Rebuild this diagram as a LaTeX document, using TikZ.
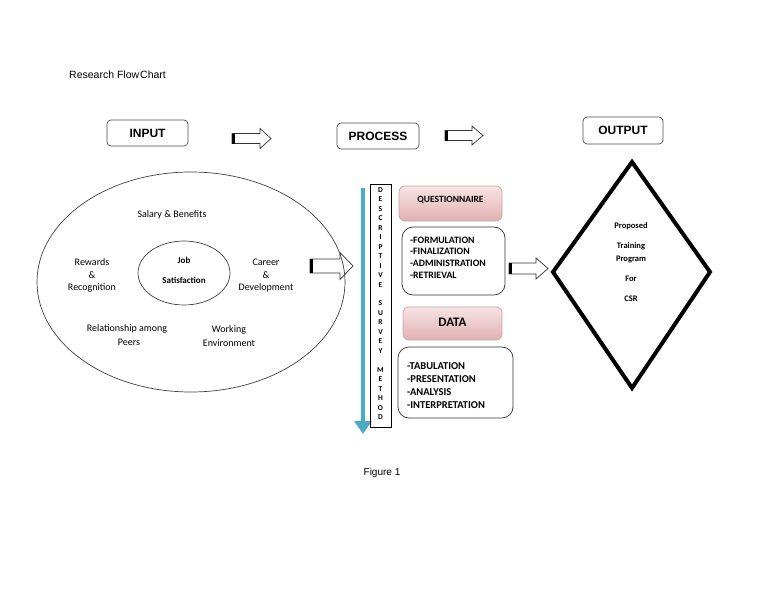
\documentclass[tikz,border=0pt]{standalone}
\usepackage{fontspec}
\setmainfont{Carlito}
\newfontfamily\arialf{Liberation Sans}
\usetikzlibrary{arrows.meta}
\definecolor{teal1}{HTML}{4BACC6}
\definecolor{pinkA}{HTML}{F7E4E4}
\definecolor{pinkB}{HTML}{E2B1B1}
\definecolor{pinkE}{HTML}{C9A3A3}
\newcommand\blockarr[7]{% name, left x, center y, length, shaft h, head h, head length
  \pgfmathsetmacro\bxl{#2}\pgfmathsetmacro\byc{#3}%
  \pgfmathsetmacro\bxb{#2+#4-#7}\pgfmathsetmacro\bxt{#2+#4}%
  \pgfmathsetmacro\bst{#3-#5/2}\pgfmathsetmacro\bsb{#3+#5/2}%
  \pgfmathsetmacro\bht{#3-#6/2}\pgfmathsetmacro\bhb{#3+#6/2}%
  \coordinate (#1) at (\bxl,\byc);
  \draw[blockline] (\bxl,\bst) -- (\bxb,\bst) -- (\bxb,\bht) -- (\bxt,\byc) -- (\bxb,\bhb) -- (\bxb,\bsb) -- (\bxl,\bsb) -- cycle;
  \fill[black] (\bxl,\bst) rectangle ++(3,#5);
}
\begin{document}
\begin{tikzpicture}[x=1pt,y=-1pt,
  hbox/.style={draw=black!70, rounded corners=4pt, line width=0.7pt, inner sep=0pt, font=\arialf\bfseries\fontsize{12}{14}\selectfont},
  blockline/.style={draw=black!80, line width=0.7pt, fill=white},
  ctext/.style={font=\fontsize{10}{12}\selectfont, inner sep=0pt},
  jtext/.style={font=\bfseries\fontsize{9}{11}\selectfont, inner sep=0pt},
  dtext/.style={font=\bfseries\fontsize{8.5}{10}\selectfont, inner sep=0pt},
  letter/.style={font=\bfseries\fontsize{7.5}{8}\selectfont, inner sep=0pt},
  listbox/.style={draw=black!80, line width=0.7pt, rounded corners=11pt, inner sep=0pt},
  pinkbox/.style={draw=pinkE, line width=0.7pt, rounded corners=6pt, top color=pinkA, bottom color=pinkB, inner sep=0pt},
  listtext/.style={font=\bfseries\fontsize{9.8}{11}\selectfont, inner sep=0pt, anchor=west},
  listtextb/.style={font=\bfseries\fontsize{10.5}{12}\selectfont, inner sep=0pt, anchor=west},
  bluearrow/.style={teal1, line width=4.5pt, -{Triangle[width=17pt,length=13pt]}}
]
\useasboundingbox (0,0) rectangle (768,594);

% title
\node[font=\arialf\fontsize{10.5}{12}\selectfont, anchor=west, inner sep=0pt] (title) at (69,75) {Research Flow\kern1pt Chart};

% header boxes
\node[hbox, minimum width=81pt, minimum height=26pt] (input) at (147.5,133) {INPUT};
\node[hbox, minimum width=82pt, minimum height=26pt] (process) at (378,136) {PROCESS};
\node[hbox, minimum width=80pt, minimum height=27pt] (output) at (623,130.5) {OUTPUT};

% block arrows
\blockarr{a1}{232}{138.5}{39}{10}{20}{11}
\blockarr{a2}{445}{135.5}{38}{10}{19}{11}
\blockarr{a3}{310}{266}{43}{14}{27}{13}
\blockarr{a4}{509}{268.5}{39}{11}{21}{12}

% ellipses
\draw[black!75, line width=0.7pt] (191,282) ellipse [x radius=154, y radius=110];
\draw[black!75, line width=0.7pt] (184,273) ellipse [x radius=46, y radius=32];

\node[ctext] (salary) at (172,215) {Salary \& Benefits};
\node[ctext] (rew1) at (92,262) {Rewards};
\node[ctext] (rew2) at (92,275.5) {\&};
\node[ctext] (rew3) at (92,288) {Recognition};
\node[ctext] (car1) at (266,262) {Career};
\node[ctext] (car2) at (266,275.5) {\&};
\node[ctext] (car3) at (266,288) {Development};
\node[jtext] (job1) at (184,260) {Job};
\node[jtext] (job2) at (184,280) {Satisfaction};
\node[ctext] (rel1) at (127,329) {Relationship among};
\node[ctext] (rel2) at (129,342) {Peers};
\node[ctext] (wor1) at (229,330) {Working};
\node[ctext] (wor2) at (229,343) {Environment};

% descriptive survey method
\coordinate (bt) at (363,188);
\coordinate (bb) at (363,434);
\draw[bluearrow] (bt) -- (bb);
\node[draw=black, line width=0.7pt, minimum width=21pt, minimum height=243pt, inner sep=0pt] (vbox) at (380.5,305.5) {};
\foreach \ch [count=\i] in {D,E,S,C,R,I,P,T,I,V,E,{},S,U,R,V,E,Y,{},M,E,T,H,O,D}
  \node[letter] (L\i) at (380.5,{190+(\i-1)*9.46}) {\ch};

% process boxes
\node[pinkbox, minimum width=103pt, minimum height=35pt] (quest) at (450.5,203.5) {};
\node[font=\bfseries\fontsize{9.5}{11}\selectfont, inner sep=0pt] (questt) at (450.5,200) {QUESTIONNAIRE};
\node[listbox, minimum width=103pt, minimum height=68pt] (list1) at (453.5,261) {};
\node[listtext] (f1) at (410,240) {-FORMULATION};
\node[listtext] (f2) at (410,251.5) {-FINALIZATION};
\node[listtext] (f3) at (410,263) {-ADMINISTRATION};
\node[listtext] (f4) at (410,275) {-RETRIEVAL};

\node[pinkbox, minimum width=99pt, minimum height=33pt] (data) at (452.5,323.5) {};
\node[font=\bfseries\fontsize{13}{15}\selectfont, inner sep=0pt] (datat) at (452.5,322) {DATA};
\node[listbox, minimum width=115pt, minimum height=71pt] (list2) at (455.5,382.5) {};
\node[listtextb] (t1) at (407,366) {-TABULATION};
\node[listtextb] (t2) at (407,379) {-PRESENTATION};
\node[listtextb] (t3) at (407,392) {-ANALYSIS};
\node[listtextb] (t4) at (407,405) {-INTERPRETATION};

% output diamond
\coordinate (dt) at (632,162);
\coordinate (dr) at (710,272);
\coordinate (db) at (632,388);
\coordinate (dl) at (553,272);
\draw[black, line width=4pt, line join=miter] (dt) -- (dr) -- (db) -- (dl) -- cycle;
\node[dtext] (o1) at (631,226) {Proposed};
\node[dtext] (o2) at (631,246) {Training};
\node[dtext] (o3) at (631,259) {Program};
\node[dtext] (o4) at (631,279) {For};
\node[dtext] (o5) at (631,299) {CSR};

% caption
\node[font=\arialf\fontsize{10}{12}\selectfont, inner sep=0pt] (fig) at (382,473) {Figure 1};
\end{tikzpicture}
\end{document}
